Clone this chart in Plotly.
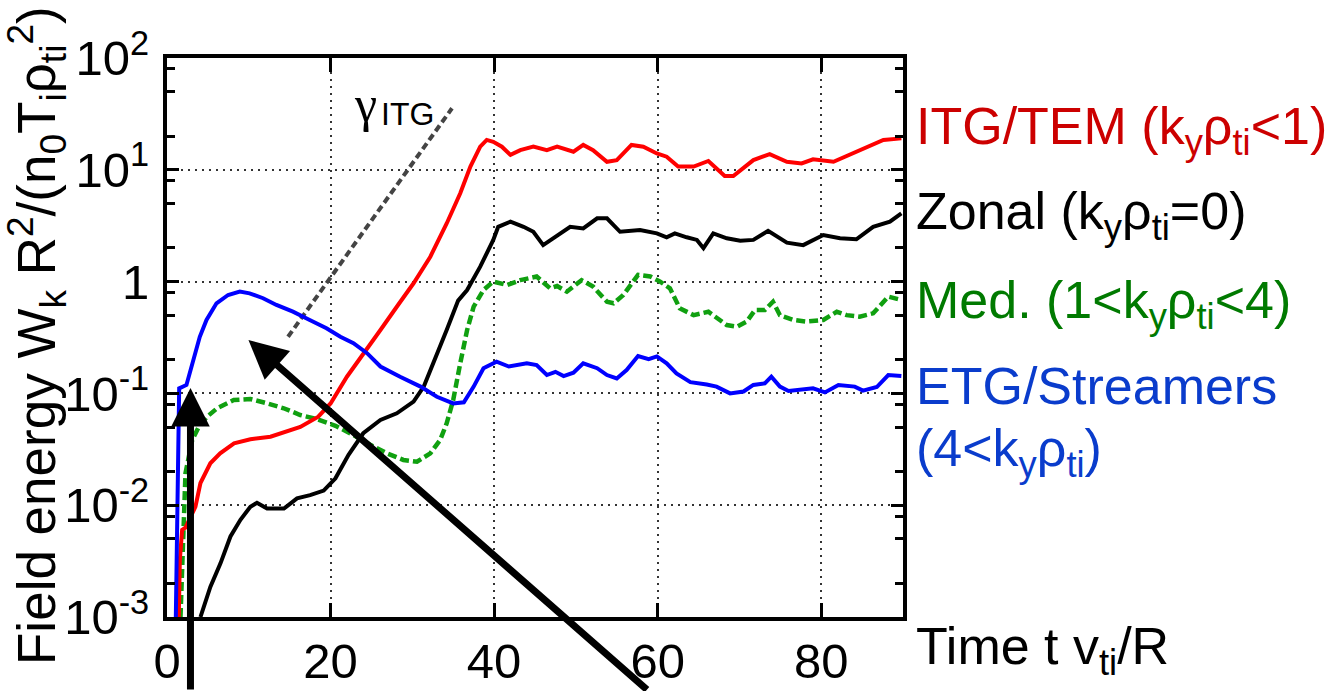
import plotly.graph_objects as go

# ---------------- data ----------------
t_itg = [1.44, 1.57, 1.85, 2.26, 3.48, 4.09, 5.3, 6.5, 8.2, 10.2, 12.65, 14.3, 16.3, 18.5, 20.0,
         22.0, 24.0, 26.1, 28.1, 30.15, 32.2, 34.2, 35.86, 37.1, 38.3, 39.1, 39.9, 40.95, 42.0,
         43.2, 44.8, 46.45, 47.7, 49.7, 50.9, 52.1, 53.8, 55.0, 56.8, 58.25, 59.9, 61.1, 62.5,
         64.4, 66.2, 67.2, 68.2, 69.25, 70.5, 71.7, 73.7, 75.8, 77.6, 79.0, 81.5, 83.5, 85.5,
         87.6, 89.8]
w_itg = [0.001, 0.00324, 0.00603, 0.00631, 0.0097, 0.0158, 0.0237, 0.0291, 0.0358, 0.0389, 0.0410,
         0.0447, 0.0501, 0.062, 0.0813, 0.141, 0.229, 0.369, 0.596, 0.966, 1.67, 3.31, 6.17, 10.7,
         16.1, 18.5, 17.8, 16.1, 13.6, 15.0, 16.1, 15.0, 16.1, 14.5, 16.7, 15.0, 11.8, 12.2, 16.7,
         16.1, 14.0, 13.1, 10.7, 10.7, 12.0, 10.3, 8.81, 8.81, 10.3, 12.2, 13.8, 11.8, 11.4, 12.4,
         11.8, 13.6, 15.6, 18.5, 19.1]

t_zonal = [4.09, 5.3, 6.54, 7.76, 8.98, 10.2, 11.0, 12.24, 14.3, 15.9, 17.5, 19.16, 20.6, 22.2,
           24.0, 26.1, 28.1, 30.15, 31.4, 32.6, 34.2, 35.6, 36.7, 38.3, 39.9, 40.5, 42.0, 43.6,
           44.8, 46.0, 47.3, 49.3, 50.9, 52.6, 53.8, 55.4, 57.85, 59.9, 61.1, 62.1, 63.55, 64.8,
           65.6, 66.8, 68.45, 70.1, 71.7, 73.5, 75.8, 77.8, 80.25, 82.3, 84.3, 86.35, 88.4, 89.8]
w_zonal = [0.001, 0.00186, 0.00302, 0.00525, 0.00741, 0.0097, 0.0105, 0.00933, 0.00933, 0.0115,
           0.0123, 0.0135, 0.0174, 0.0282, 0.0440, 0.0578, 0.0664, 0.0843, 0.115, 0.186, 0.369,
           0.676, 0.841, 1.36, 2.36, 3.09, 3.44, 3.09, 2.79, 2.12, 2.44, 3.09, 2.99, 3.68, 3.68,
           2.79, 2.89, 2.70, 2.49, 2.70, 2.49, 2.36, 1.99, 2.70, 2.44, 2.32, 2.36, 2.85, 2.23,
           2.12, 2.61, 2.44, 2.39, 3.09, 3.44, 4.07]

t_med = [1.65, 1.85, 2.05, 2.26, 3.08, 3.89, 4.9, 6.13, 8.16, 10.2, 12.24, 14.27, 16.3, 18.35,
         20.6, 22.8, 24.86, 26.9, 28.9, 30.57, 32.2, 33.4, 34.2, 35.0, 35.86, 36.7, 37.5, 38.7,
         39.9, 41.6, 43.2, 45.2, 46.85, 47.7, 48.9, 50.7, 52.1, 53.8, 54.6, 55.8, 57.6, 59.1,
         60.3, 61.5, 62.7, 64.4, 66.2, 67.2, 68.45, 69.7, 70.9, 71.9, 73.1, 74.1, 74.95, 76.6,
         78.2, 80.25, 81.9, 83.1, 84.7, 86.35, 88.2, 89.8]
w_med = [0.001, 0.00302, 0.00906, 0.0193, 0.0383, 0.0504, 0.0619, 0.0736, 0.0873, 0.0891, 0.0815,
         0.0736, 0.0641, 0.0589, 0.0513, 0.0425, 0.0347, 0.0291, 0.0254, 0.0245, 0.0291, 0.0383,
         0.0540, 0.0873, 0.186, 0.369, 0.596, 0.841, 1.0, 0.933, 1.03, 1.11, 0.871, 0.912, 0.813,
         1.03, 0.902, 0.661, 0.640, 0.759, 1.15, 1.11, 1.0, 0.871, 0.577, 0.501, 0.537, 0.470,
         0.409, 0.395, 0.439, 0.557, 0.557, 0.661, 0.501, 0.454, 0.439, 0.454, 0.537, 0.501,
         0.485, 0.520, 0.733, 0.685]

t_etg = [1.08, 1.16, 1.37, 1.49, 2.38, 2.87, 3.40, 4.01, 4.83, 6.05, 7.47, 8.9, 10.1, 11.75,
         13.38, 15.4, 17.45, 19.5, 21.2, 22.8, 24.46, 26.1, 28.5, 31.0, 33.0, 35.0, 36.3, 37.5,
         38.7, 40.3, 41.8, 44.0, 45.2, 46.45, 47.5, 48.5, 49.7, 50.9, 52.6, 53.8, 55.0, 56.2,
         57.6, 58.9, 59.9, 61.1, 62.3, 64.0, 66.0, 67.2, 68.85, 70.5, 71.7, 73.1, 73.9, 74.95,
         76.0, 77.8, 79.0, 80.45, 82.1, 84.1, 85.1, 86.8, 88.2, 89.8]
w_etg = [0.001, 0.00324, 0.0501, 0.111, 0.119, 0.162, 0.229, 0.321, 0.454, 0.640, 0.759, 0.813,
         0.785, 0.710, 0.618, 0.538, 0.454, 0.382, 0.321, 0.281, 0.229, 0.174, 0.141, 0.115,
         0.0933, 0.0813, 0.0832, 0.115, 0.168, 0.192, 0.174, 0.186, 0.179, 0.146, 0.156, 0.143,
         0.153, 0.186, 0.168, 0.146, 0.136, 0.162, 0.216, 0.202, 0.214, 0.186, 0.151, 0.126,
         0.120, 0.115, 0.100, 0.104, 0.119, 0.123, 0.141, 0.115, 0.105, 0.108, 0.111, 0.102,
         0.119, 0.115, 0.106, 0.114, 0.146, 0.143]

t_gamma = [14.8, 34.85]
w_gamma = [0.321, 35.5]

x_tickvals = [0, 20, 40, 60, 80]
x_ticktext = ["0", "20", "40", "60", "80"]
y_tickvals = [0.001, 0.01, 0.1, 1, 10, 100]
y_ticktext = ["10<sup>-3</sup>", "10<sup>-2</sup>", "10<sup>-1</sup>", "1",
              "10<sup>1</sup>", "10<sup>2</sup>"]
y_minor = [0.002, 0.005, 0.008, 0.02, 0.05, 0.08, 0.2, 0.5, 0.8, 2, 5, 8, 20, 50, 80]

FONT = "Arial, Liberation Sans, sans-serif"
SERIF = "Liberation Serif, Times New Roman, serif"

# ---------------- figure ----------------
W, H = 1338, 691
L, R, T, B = 167, 435, 58, 74
PW, PH = W - L - R, H - T - B


def px(x):
    return (x - L) / PW


def py(y):
    return (H - B - y) / PH


fig = go.Figure()

fig.add_trace(go.Scatter(x=t_gamma, y=w_gamma, mode="lines",
                         line=dict(color="#444444", width=4, dash="7px,4px"), showlegend=False))
fig.add_trace(go.Scatter(x=t_zonal, y=w_zonal, mode="lines",
                         line=dict(color="black", width=4), showlegend=False))
fig.add_trace(go.Scatter(x=t_med, y=w_med, mode="lines",
                         line=dict(color="#10a010", width=4.5, dash="9px,4px"), showlegend=False))
fig.add_trace(go.Scatter(x=t_itg, y=w_itg, mode="lines",
                         line=dict(color="#ff0000", width=4), showlegend=False))
fig.add_trace(go.Scatter(x=t_etg, y=w_etg, mode="lines",
                         line=dict(color="#0000ff", width=4), showlegend=False))

axis_common = dict(showline=True, linecolor="black", linewidth=4, mirror="ticks",
                   ticks="inside", tickcolor="black", tickwidth=3,
                   showgrid=True, gridcolor="#333333", gridwidth=1.6, griddash="2px,5px",
                   zeroline=False, tickfont=dict(family=FONT, size=49, color="black"))

fig.update_xaxes(range=[0, 90], tickvals=x_tickvals, ticktext=x_ticktext, ticklen=14,
                 ticklabelstandoff=-2, **axis_common)
fig.update_yaxes(type="log", range=[-3, 2], tickvals=y_tickvals, ticktext=y_ticktext,
                 ticklen=12, ticklabelstandoff=4,
                 minor=dict(tickvals=y_minor, ticks="inside", ticklen=8, tickwidth=3,
                            tickcolor="black", showgrid=False),
                 **axis_common)

ann = []
# axis titles
ann.append(dict(text="Field energy W<sub>k</sub> R<sup>2</sup>/(n<sub>0</sub>T<sub>i</sub>"
                     "ρ<sub>ti</sub><sup>2</sup>)",
                xref="paper", yref="paper", x=px(36), y=py(336), xanchor="center",
                yanchor="middle", textangle=-90, showarrow=False,
                font=dict(family=FONT, size=53, color="black")))
ann.append(dict(text="Time t v<sub>ti</sub>/R", xref="paper", yref="paper",
                x=px(914), y=py(650), xanchor="left", yanchor="middle", showarrow=False,
                font=dict(family=FONT, size=52, color="black")))
# series labels
labels = [
    ("ITG/TEM (k<sub>y</sub>ρ<sub>ti</sub>&lt;1)", "#cc0000", 130),
    ("Zonal (k<sub>y</sub>ρ<sub>ti</sub>=0)", "black", 215),
    ("Med. (1&lt;k<sub>y</sub>ρ<sub>ti</sub>&lt;4)", "#007a00", 304),
    ("ETG/Streamers", "#0a3ccc", 386),
    ("(4&lt;k<sub>y</sub>ρ<sub>ti</sub>)", "#0a3ccc", 452),
]
for txt, col, yc in labels:
    ann.append(dict(text=txt, xref="paper", yref="paper", x=px(914), y=py(yc),
                    xanchor="left", yanchor="middle", showarrow=False,
                    font=dict(family=FONT, size=52, color=col)))
# gamma label (serif gamma + sans subscript)
ann.append(dict(text="γ", xref="paper", yref="paper", x=px(352), y=py(104), xanchor="left",
                yanchor="middle", showarrow=False,
                font=dict(family=SERIF, size=50, color="black")))
ann.append(dict(text="ITG", xref="paper", yref="paper", x=px(379), y=py(114), xanchor="left",
                yanchor="middle", showarrow=False,
                font=dict(family=FONT, size=32, color="black")))
# arrows
ann.append(dict(text="", x=2.87, y=-0.952, xref="x", yref="y", ax=0, ay=320,
                showarrow=True, arrowhead=2, arrowsize=1.1, arrowwidth=7, arrowcolor="black"))
ann.append(dict(text="", x=9.96, y=-0.522, xref="x", yref="y", ax=400, ay=362,
                showarrow=True, arrowhead=2, arrowsize=1.1, arrowwidth=7, arrowcolor="black"))

fig.update_layout(width=W, height=H, margin=dict(l=L, r=R, t=T, b=B, autoexpand=False),
                  template="none", plot_bgcolor="white", paper_bgcolor="white",
                  showlegend=False, annotations=ann, font=dict(family=FONT))

fig.write_html("out.html")
